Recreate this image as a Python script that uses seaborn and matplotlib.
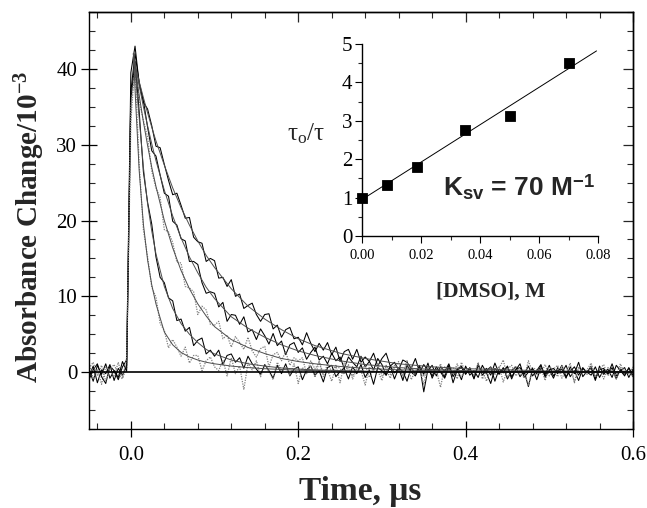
import numpy as np
import matplotlib
matplotlib.use("Agg")
import matplotlib.pyplot as plt
import seaborn as sns
from matplotlib.ticker import MultipleLocator, FormatStrFormatter

# kinetic traces, one sample every 5 ns starting at -0.05 us
t_start = -0.05
t_step = 0.005

trace_a = [0.4, -1.2, 0.9, -0.3, 1.1, -0.8, 0.2, -1.0, 0.7, 1.6,
           39.5, 43.0, 38.0, 35.6, 34.7, 32.5, 29.8, 29.6, 27.4, 25.3,
           23.4, 23.6, 22.0, 20.3, 20.4, 17.8, 17.2, 17.0, 14.6, 15.0,
           14.7, 12.4, 12.5, 11.3, 12.2, 10.0, 10.3, 8.4, 8.8, 9.1,
           7.6, 6.7, 7.6, 7.7, 5.7, 6.2, 4.6, 5.6, 5.9, 4.4,
           4.6, 3.6, 5.2, 3.8, 2.7, 3.8, 2.9, 3.9, 2.3, 3.3,
           1.4, 2.7, 3.0, 1.7, 3.0, 1.3, 2.0, 1.4, 2.5, 0.8,
           1.8, 2.5, 0.8, 1.3, 0.3, 1.6, 1.3, 0.5, 1.8, 0.0,
           1.0,
           0.2, 0.9, -0.5, 0.7, 0.1, 1.1, -0.6, 0.4, 0.8, -0.3,
           0.6, -0.8, 0.9, 0.0, 0.5, -0.4, 1.2, -0.2, 0.3, 0.7,
           -0.9, 0.4, 0.6, -0.3, 0.8, -0.5, 0.2, 1.0, -0.7, 0.3,
           0.5, -0.2, 0.9, -0.6, 0.1, 0.7, -0.4, 0.6, -0.1, 0.8,
           -0.9, 0.3, 0.5, -0.3, 1.1, -0.5, 0.2, 0.6, -0.7, 0.4]

trace_b = [-0.6, 0.8, -1.4, 0.3, -0.2, 1.0, -1.1, 0.5, -0.4, 0.9,
           37.0, 42.0, 38.2, 35.8, 32.3, 29.2, 28.5, 26.0, 23.6, 23.2,
           19.9, 19.4, 17.6, 17.3, 14.6, 14.6, 14.2, 11.8, 10.4, 10.6,
           10.4, 8.6, 9.2, 6.7, 7.6, 7.5, 6.3, 7.3, 5.3, 5.6,
           4.3, 5.7, 4.8, 3.7, 5.1, 3.5, 4.1, 2.3, 3.6, 3.9,
           2.6, 3.2, 1.7, 2.6, 3.3, 1.6, 2.1, 1.1, 2.5, 1.5,
           2.0, 0.5, 2.0, 1.3, 0.7, 2.1, 0.7, 1.4, 0.3, 1.8,
           1.0,
           -0.4, 0.8, -0.9, 0.5, 0.1, -1.2, 0.6, -0.3, 0.9, -2.6,
           0.4, -0.5, 0.7, 0.0, -0.8, 0.6, -0.2, 0.3, -1.0, 0.8,
           -0.4, 0.2, -0.7, 0.9, -0.1, -1.5, 0.5, -0.3, 0.6, -0.9,
           0.2, 0.7, -0.6, 0.1, -1.9, 0.4, -0.2, 0.8, -0.5, 0.3,
           -0.8, 0.6, -0.1, 0.9, -0.6, 0.2, -1.1, 0.5, 0.0, -0.4,
           0.7, -0.7, 0.3, -0.2, 0.6, -0.9, 0.4, -0.3, 0.5, -0.6]

trace_c = [1.2, -0.9, 0.4, -1.6, 0.7, 0.1, -0.5, 1.3, -0.8, 0.6,
           33.0, 41.0, 35.7, 33.2, 31.0, 26.5, 24.3, 23.0, 18.8, 18.5,
           17.1, 14.5, 14.4, 11.3, 11.1, 10.6, 7.6, 8.7, 8.2, 6.3,
           6.2, 6.7, 4.4, 4.9, 3.3, 4.7, 3.9, 3.0, 4.6, 2.8,
           2.0, 3.1, 3.4, 0.7, 2.3, 2.6, 1.5, 2.7, 0.9, 1.9,
           1.5,
           1.9, -0.2, 1.5, 0.4, 1.3, -0.6, 1.1, 0.1, 0.9, -1.4,
           1.2, 0.3, -0.5, 0.8, 0.0, 1.0, -0.7, 0.5, 0.2, -1.1,
           0.9, -0.3, 0.6, 1.4, -0.8, 0.2, 0.7, -0.4, 0.5, -1.6,
           0.8, 0.1, -0.2, 1.1, -0.5, 0.4, 0.6, -0.9, 1.3, -0.1,
           0.3, -0.6, 0.9, 0.2, -1.2, 0.7, -0.3, 0.5, 1.6, -0.7,
           0.2, 0.8, -0.4, 0.1, -1.8, 0.6, 0.3, -0.2, 1.0, -0.5,
           0.4, 0.9, -0.8, 0.2, 0.5, -1.3, 0.7, -0.1, 0.3, 1.2,
           -0.6, 0.4, -0.9, 0.6, 0.1, -0.4, 1.1, -0.3, 0.5, -0.7]

trace_d = [-1.0, 0.3, 1.1, -0.6, -1.5, 0.8, 0.2, -0.7, 1.4, 0.1,
           36.0, 41.0, 34.3, 26.4, 22.4, 19.5, 15.2, 12.5, 11.8, 9.8,
           9.4, 6.8, 7.0, 5.4, 5.9, 3.5, 4.2, 4.5, 2.4, 2.9,
           2.1, 2.9, 1.0, 2.2, 2.4, 1.3, 1.9, 0.5, 2.1, 1.1,
           0.4,
           -0.3, 1.0, 0.2, -0.8, 0.9, -0.2, 1.1, -0.5, 0.4, 0.7,
           -1.0, 0.3, 0.8, -0.4, 0.2, -1.3, 0.6, 0.9, -0.6, 0.1,
           0.5, -0.9, 0.7, -0.2, 1.0, -0.7, 0.3, -1.6, 0.6, 0.2,
           -0.4, 0.8, -0.1, 0.5, -1.1, 0.9, 0.0, -0.5, 0.7, -0.3,
           1.2, -0.8, 0.4, 0.1, -0.6, 0.9, -1.4, 0.3, 0.6, -0.2,
           0.5, -0.9, 1.0, -0.4, 0.2, 0.7, -1.2, 0.4, -0.1, 0.8,
           -0.6, 0.3, 1.1, -0.7, 0.0, 0.5, -1.0, 0.6, -0.3, 0.9,
           -0.5, 0.2, 0.4, -0.8, 0.7, -0.2, 1.3, -0.6, 0.1, 0.5,
           -1.1, 0.8, -0.3, 0.4, -0.7, 0.9, 0.2, -0.5, 0.6, -0.4]

trace_e = [0.5, 1.3, -0.4, 0.9, -1.2, 0.4, 1.0, -0.3, -0.9, 2.0,
           35.0, 40.0, 27.3, 18.8, 15.2, 11.2, 9.9, 6.4, 5.5, 3.2,
           4.3, 3.3, 2.1, 3.3, 1.2, 2.2, 2.2, 0.2, 1.5, 2.0,
           0.7,
           0.2, 1.6, -0.5, 1.9, -0.2, 0.8, -2.3, 1.2, 0.3, 1.5,
           -0.6, 0.9, 0.1, -1.0, 1.3, 0.2, 0.7, -0.4, 1.1, -1.5,
           0.6, 0.0, 0.9, -0.7, 1.4, -0.2, 0.3, -1.2, 0.8, 0.5,
           -0.3, 1.0, -0.9, 0.4, 0.2, -1.7, 0.7, 0.1, 1.2, -0.5,
           0.3, -0.8, 0.9, 0.4, -0.4, 1.6, -1.0, 0.2, 0.6, -0.6,
           0.8, -0.1, 0.3, -2.0, 0.7, 0.4, -0.3, 1.1, -0.7, 0.2,
           0.5, -0.4, 1.3, -0.9, 0.1, 0.6, -0.2, 0.8, -1.3, 0.4,
           0.9, -0.5, 0.2, -0.8, 1.5, 0.0, -0.4, 0.6, -1.1, 0.7,
           0.3, -0.6, 0.9, -0.2, 1.2, -1.4, 0.5, 0.1, -0.3, 0.8,
           -0.7, 0.4, 1.0, -0.5, 0.2, -0.9, 0.6, 0.3, -0.2, 0.7]

# fitted decay curves
fit_time = [0.003, 0.006, 0.01, 0.015, 0.02, 0.025, 0.03, 0.04, 0.05, 0.06,
            0.07, 0.08, 0.09, 0.1, 0.12, 0.14, 0.16, 0.18, 0.2, 0.22,
            0.25, 0.28, 0.32, 0.36, 0.4, 0.5, 0.6]
fit_a = [41.5, 40.1, 38.3, 36.2, 34.2, 32.3, 30.5, 27.3, 24.3, 21.7,
         19.4, 17.3, 15.4, 13.8, 11.0, 8.7, 7.0, 5.6, 4.4, 3.5,
         2.5, 1.8, 1.1, 0.7, 0.46, 0.15, 0.05]
fit_b = [42.0, 40.1, 37.8, 35.0, 32.5, 30.1, 27.9, 24.0, 20.6, 17.7,
         15.2, 13.1, 11.2, 9.7, 7.3, 5.8, 4.6, 3.6, 2.8, 2.2,
         1.5, 1.0, 0.6, 0.35, 0.2, 0.05, 0.0]
fit_c = [42.0, 39.6, 36.5, 33.0, 29.9, 27.0, 24.5, 20.0, 16.4, 13.4,
         11.0, 9.0, 7.4, 6.0, 4.3, 3.25, 2.45, 1.8, 1.4, 1.1,
         0.75, 0.5, 0.3, 0.2, 0.1, 0.03, 0.0]
fit_d = [42.0, 38.5, 33.5, 27.0, 22.2, 18.6, 15.6, 11.3, 8.4, 6.4,
         5.0, 3.9, 3.0, 2.4, 1.6, 1.1, 0.8, 0.55, 0.4, 0.3,
         0.2, 0.12, 0.06, 0.03, 0.02, 0.0, 0.0]
fit_e = [42.0, 35.0, 26.5, 19.5, 14.8, 11.5, 9.0, 5.3, 3.6, 2.6,
         2.0, 1.6, 1.3, 1.1, 0.8, 0.6, 0.45, 0.35, 0.25, 0.2,
         0.15, 0.1, 0.05, 0.03, 0.02, 0.0, 0.0]

# Stern-Volmer inset
dmso_conc = [0.0, 0.0085, 0.0185, 0.035, 0.05, 0.07]
tau_ratio = [1.0, 1.33, 1.8, 2.75, 3.12, 4.5]
sv_line_conc = [0.0, 0.0795]
sv_line_ratio = [0.95, 4.82]

sns.set_theme(style="ticks")
plt.rcParams["font.family"] = ["Liberation Serif", "DejaVu Serif"]
plt.rcParams["mathtext.fontset"] = "custom"
plt.rcParams["mathtext.rm"] = "Liberation Serif"
plt.rcParams["mathtext.it"] = "Liberation Serif:italic"
plt.rcParams["mathtext.bf"] = "Liberation Serif:bold"
plt.rcParams["mathtext.sf"] = "Liberation Sans:bold"
plt.rcParams["axes.edgecolor"] = "black"
plt.rcParams["axes.linewidth"] = 1.0

W, H = 647, 508
fig = plt.figure(figsize=(W / 100, H / 100), dpi=100)
ax = fig.add_axes([89 / W, 1 - 429 / H, (633 - 89) / W, (429 - 12) / H])

time_us = t_start + t_step * np.arange(len(trace_a))

black_kw = dict(color="black", lw=0.75)
gray_kw = dict(color="0.5", lw=0.9, linestyle=(0, (1, 1)))
for vals, kw in [(trace_a, black_kw), (trace_b, black_kw), (trace_c, gray_kw),
                 (trace_d, black_kw), (trace_e, gray_kw)]:
    sns.lineplot(x=time_us, y=vals, ax=ax, estimator=None, sort=False, **kw)

for vals in [fit_a, fit_b, fit_c, fit_d, fit_e]:
    sns.lineplot(x=fit_time, y=vals, ax=ax, estimator=None, sort=False,
                 color="0.3", lw=0.7)

ax.axhline(0, color="black", lw=1.2, zorder=5)

ax.set_xlim(-0.05, 0.6)
ax.set_ylim(-7.5, 47.5)
ax.xaxis.set_major_locator(MultipleLocator(0.2))
ax.xaxis.set_minor_locator(MultipleLocator(0.04))
ax.xaxis.set_major_formatter(FormatStrFormatter("%.1f"))
ax.yaxis.set_major_locator(MultipleLocator(10))
ax.yaxis.set_minor_locator(MultipleLocator(2.5))
ax.tick_params(which="major", direction="inout", length=11, width=0.9,
               labelsize=15, colors="black")
ax.tick_params(axis="x", which="major", pad=7)
ax.tick_params(axis="y", which="major", pad=3)
ax.tick_params(which="minor", direction="in", length=4, width=0.8)
ax.set_xlabel("")
ax.set_ylabel("")

# inward ticks along top and right
sec_x = ax.secondary_xaxis("top")
sec_x.xaxis.set_major_locator(MultipleLocator(0.2))
sec_x.xaxis.set_minor_locator(MultipleLocator(0.04))
sec_x.tick_params(which="major", direction="in", length=7, width=0.9, labeltop=False)
sec_x.tick_params(which="minor", direction="in", length=4, width=0.8)
sec_y = ax.secondary_yaxis("right")
sec_y.yaxis.set_major_locator(MultipleLocator(10))
sec_y.yaxis.set_minor_locator(MultipleLocator(2.5))
sec_y.tick_params(which="major", direction="in", length=7, width=0.9, labelright=False)
sec_y.tick_params(which="minor", direction="in", length=4, width=0.8)

fig.text(30 / W, 1 - 227 / H, r"Absorbance Change/10$^{\mathbf{-3}}$",
         rotation=90, ha="center", va="center", fontsize=21, fontweight="bold")
fig.text(360 / W, 1 - 500 / H, "Time, μs", ha="center", va="baseline",
         fontsize=24, fontweight="bold")

# inset
axin = fig.add_axes([362 / W, 1 - 236 / H, (598 - 362) / W, (236 - 44) / H])
axin.patch.set_alpha(0)
sns.lineplot(x=sv_line_conc, y=sv_line_ratio, ax=axin, color="black", lw=0.7)
sns.scatterplot(x=dmso_conc, y=tau_ratio, ax=axin, marker="s", s=55,
                color="black", edgecolor="black", zorder=3, clip_on=False)
axin.set_xlim(0, 0.08)
axin.set_ylim(0, 5)
for side in ["top", "right"]:
    axin.spines[side].set_visible(False)
axin.xaxis.set_major_locator(MultipleLocator(0.02))
axin.xaxis.set_minor_locator(MultipleLocator(0.01))
axin.xaxis.set_major_formatter(FormatStrFormatter("%.2f"))
axin.yaxis.set_major_locator(MultipleLocator(1))
axin.yaxis.set_minor_locator(MultipleLocator(0.5))
axin.tick_params(which="major", direction="out", length=5, width=0.8, colors="black")
axin.tick_params(which="minor", direction="out", length=3, width=0.8)
axin.tick_params(axis="x", labelsize=10.5, pad=4)
axin.tick_params(axis="y", labelsize=15, pad=2)
axin.set_xlabel("")
axin.set_ylabel("")

fig.text(287 / W, 1 - 140 / H, r"τ$_{\mathrm{o}}$/τ", ha="left", va="baseline", fontsize=18)
fig.text(491 / W, 1 - 297 / H, "[DMSO], M", ha="center", va="baseline",
         fontsize=15.5, fontweight="bold")
fig.text(443 / W, 1 - 196 / H, r"K$_{\mathsf{sv}}$ = 70 M$^{\mathsf{-1}}$",
         ha="left", va="baseline", fontsize=19, fontweight="bold",
         family=["Liberation Sans", "DejaVu Sans"])

fig.savefig("out.png", dpi=100)
